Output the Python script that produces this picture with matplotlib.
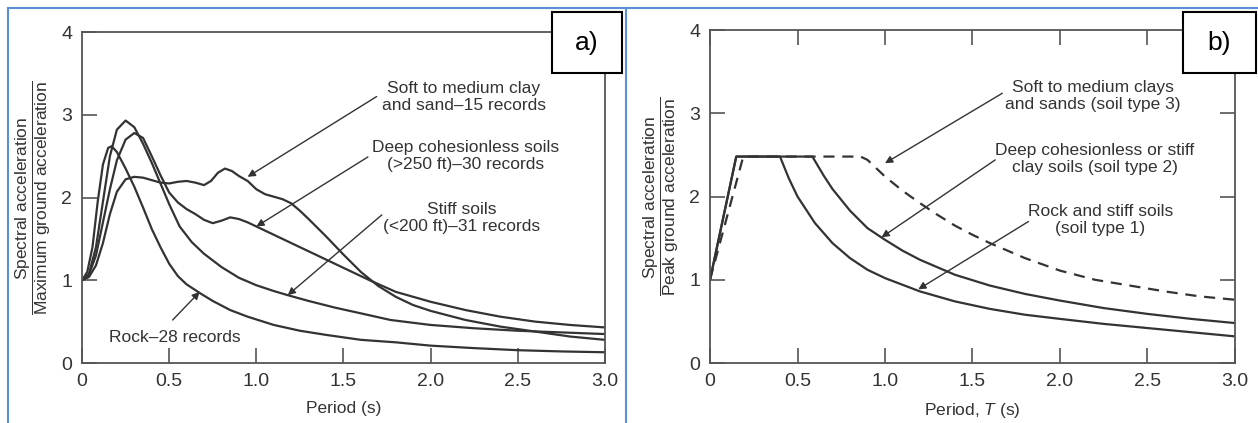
import matplotlib.pyplot as plt
from matplotlib.lines import Line2D
from matplotlib.patches import Rectangle

plt.rcParams['font.family'] = ['Liberation Sans', 'DejaVu Sans']
plt.rcParams['mathtext.fontset'] = 'custom'
plt.rcParams['mathtext.rm'] = 'Liberation Sans'
plt.rcParams['mathtext.it'] = 'Liberation Sans:italic'

# ---- panel a: average spectral shapes (Seed et al.) ----
rock_T = [0, 0.03, 0.06, 0.09, 0.12, 0.15, 0.17, 0.2, 0.25, 0.3, 0.35, 0.4, 0.45, 0.5, 0.55,
          0.6, 0.68, 0.75, 0.85, 0.95, 1.1, 1.25, 1.4, 1.6, 1.8, 2.0, 2.25, 2.5, 2.75, 3.0]
rock_S = [1.0, 1.1, 1.4, 1.95, 2.4, 2.6, 2.62, 2.55, 2.35, 2.13, 1.88, 1.62, 1.4, 1.2, 1.05,
          0.95, 0.84, 0.75, 0.64, 0.56, 0.46, 0.39, 0.34, 0.28, 0.25, 0.21, 0.18, 0.155, 0.14, 0.13]

stiff_T = [0, 0.04, 0.08, 0.12, 0.16, 0.2, 0.25, 0.3, 0.35, 0.4, 0.45, 0.5, 0.56, 0.63, 0.7,
           0.8, 0.9, 1.0, 1.1, 1.18, 1.3, 1.45, 1.6, 1.77, 2.0, 2.25, 2.5, 2.75, 3.0]
stiff_S = [1.0, 1.08, 1.4, 1.95, 2.5, 2.82, 2.93, 2.85, 2.65, 2.42, 2.17, 1.92, 1.65, 1.46, 1.32,
           1.16, 1.03, 0.94, 0.87, 0.82, 0.75, 0.67, 0.6, 0.52, 0.46, 0.42, 0.39, 0.37, 0.35]

deep_T = [0, 0.04, 0.08, 0.12, 0.16, 0.2, 0.25, 0.3, 0.35, 0.4, 0.45, 0.5, 0.55, 0.6, 0.65,
          0.7, 0.75, 0.8, 0.85, 0.9, 0.95, 1.0, 1.1, 1.2, 1.35, 1.5, 1.65, 1.8, 2.0, 2.2,
          2.4, 2.6, 2.8, 3.0]
deep_S = [1.0, 1.07, 1.3, 1.7, 2.1, 2.45, 2.7, 2.78, 2.72, 2.5, 2.27, 2.06, 1.94, 1.86, 1.8,
          1.73, 1.69, 1.72, 1.76, 1.74, 1.7, 1.65, 1.55, 1.45, 1.3, 1.15, 1.0, 0.86, 0.74, 0.64,
          0.56, 0.5, 0.46, 0.43]

soft_T = [0, 0.04, 0.08, 0.12, 0.16, 0.2, 0.25, 0.3, 0.35, 0.4, 0.45, 0.5, 0.55, 0.6, 0.65,
          0.7, 0.74, 0.78, 0.82, 0.86, 0.9, 0.95, 1.0, 1.05, 1.1, 1.15, 1.2, 1.25, 1.3, 1.4,
          1.5, 1.6, 1.7, 1.8, 1.9, 2.0, 2.2, 2.4, 2.6, 2.8, 3.0]
soft_S = [1.0, 1.04, 1.18, 1.45, 1.8, 2.07, 2.22, 2.25, 2.24, 2.21, 2.18, 2.17, 2.19, 2.2, 2.18,
          2.15, 2.2, 2.3, 2.35, 2.32, 2.26, 2.2, 2.1, 2.04, 2.01, 1.98, 1.93, 1.84, 1.74, 1.53,
          1.31, 1.1, 0.93, 0.8, 0.7, 0.63, 0.52, 0.44, 0.38, 0.32, 0.28]

# ---- panel b: code spectra ----
type1_T = [0, 0.15, 0.4, 0.45, 0.5, 0.6, 0.7, 0.8, 0.9, 1.0, 1.2, 1.4, 1.6, 1.8, 2.0, 2.25,
           2.5, 2.75, 3.0]
type1_S = [1.0, 2.48, 2.48, 2.22, 2.0, 1.68, 1.44, 1.26, 1.12, 1.02, 0.86, 0.74, 0.65, 0.58,
           0.53, 0.47, 0.42, 0.37, 0.32]

type2_T = [0, 0.15, 0.585, 0.65, 0.7, 0.8, 0.9, 1.0, 1.1, 1.2, 1.4, 1.6, 1.8, 2.0, 2.25, 2.5,
           2.75, 3.0]
type2_S = [1.0, 2.48, 2.48, 2.25, 2.09, 1.83, 1.62, 1.48, 1.35, 1.24, 1.06, 0.93, 0.83, 0.75,
           0.66, 0.59, 0.53, 0.48]

type3_T = [0, 0.19, 0.86, 0.9, 0.95, 1.0, 1.1, 1.2, 1.3, 1.4, 1.5, 1.6, 1.8, 2.0, 2.2, 2.4,
           2.6, 2.8, 3.0]
type3_S = [1.0, 2.48, 2.48, 2.44, 2.34, 2.24, 2.07, 1.92, 1.78, 1.65, 1.54, 1.44, 1.26, 1.11,
           1.0, 0.93, 0.86, 0.8, 0.76]

xticks = [0, 0.5, 1.0, 1.5, 2.0, 2.5, 3.0]
xtick_labels = ['0', '0.5', '1.0', '1.5', '2.0', '2.5', '3.0']
yticks = [0, 1, 2, 3, 4]

ink = '#333333'
fs = 12.5

fig = plt.figure(figsize=(12.58, 4.23), dpi=100)
axa = fig.add_axes([0.0652, 0.1418, 0.4157, 0.7825])
axb = fig.add_axes([0.5644, 0.1418, 0.4173, 0.7872])


def style_axes(ax, all_sides):
    ax.set_xlim(0, 3.0)
    ax.set_ylim(0, 4)
    ax.set_xticks(xticks)
    ax.set_xticklabels(xtick_labels)
    ax.set_yticks(yticks)
    ax.tick_params(direction='in', length=11, width=1.2, color='#555555',
                   labelsize=14, labelcolor=ink, pad=7,
                   top=all_sides, right=all_sides)
    for s in ax.spines.values():
        s.set_color('#555555')
        s.set_linewidth(1.3)


def arrow(ax, start, tip):
    ax.annotate('', xy=tip, xytext=start,
                arrowprops=dict(arrowstyle='-|>', lw=1.0, color=ink,
                                mutation_scale=11, shrinkA=0, shrinkB=0))


lw = 1.6
axa.plot(rock_T, rock_S, color=ink, lw=lw)
axa.plot(stiff_T, stiff_S, color=ink, lw=lw)
axa.plot(deep_T, deep_S, color=ink, lw=lw)
axa.plot(soft_T, soft_S, color=ink, lw=lw)
style_axes(axa, False)
axa.set_xlabel('Period (s)', fontsize=fs, color=ink, labelpad=8)
axa.set_ylabel(r'$\dfrac{\mathrm{Spectral\ acceleration}}{\mathrm{Maximum\ ground\ acceleration}}$',
               fontsize=fs, color=ink, labelpad=6)

axa.text(2.19, 3.21, 'Soft to medium clay\nand sand–15 records', ha='center', va='center',
         fontsize=fs, color=ink, linespacing=1.15)
arrow(axa, (1.69, 3.22), (0.95, 2.25))
axa.text(2.2, 2.5, 'Deep cohesionless soils\n(>250 ft)–30 records', ha='center', va='center',
         fontsize=fs, color=ink, linespacing=1.15)
arrow(axa, (1.64, 2.49), (1.0, 1.65))
axa.text(2.18, 1.75, 'Stiff soils\n(<200 ft)–31 records', ha='center', va='center',
         fontsize=fs, color=ink, linespacing=1.15)
arrow(axa, (1.72, 1.79), (1.18, 0.82))
axa.text(0.53, 0.31, 'Rock–28 records', ha='center', va='center', fontsize=fs, color=ink)
arrow(axa, (0.52, 0.52), (0.675, 0.86))

axb.plot(type1_T, type1_S, color=ink, lw=lw)
axb.plot(type2_T, type2_S, color=ink, lw=lw)
axb.plot(type3_T, type3_S, color=ink, lw=lw, ls=(0, (5, 3.5)))
style_axes(axb, True)
axb.set_xlabel(r'Period, $T$ (s)', fontsize=fs, color=ink, labelpad=8)
axb.set_ylabel(r'$\dfrac{\mathrm{Spectral\ acceleration}}{\mathrm{Peak\ ground\ acceleration}}$',
               fontsize=fs, color=ink, labelpad=6)

axb.text(2.19, 3.21, 'Soft to medium clays\nand sands (soil type 3)', ha='center', va='center',
         fontsize=fs, color=ink, linespacing=1.15)
arrow(axb, (1.67, 3.24), (1.0, 2.4))
axb.text(2.2, 2.45, 'Deep cohesionless or stiff\nclay soils (soil type 2)', ha='center',
         va='center', fontsize=fs, color=ink, linespacing=1.15)
arrow(axb, (1.63, 2.44), (0.98, 1.51))
axb.text(2.23, 1.72, 'Rock and stiff soils\n(soil type 1)', ha='center', va='center',
         fontsize=fs, color=ink, linespacing=1.15)
arrow(axb, (1.82, 1.70), (1.19, 0.885))

# blue table borders
W, H = 1258, 423
blue = '#5b8fd8'
for (x0, y0, x1, y1) in [(8, 8, 8, 423), (8, 8, 1258, 8), (626, 8, 626, 423)]:
    fig.add_artist(Line2D([x0 / W, x1 / W], [1 - y0 / H, 1 - y1 / H], color=blue, lw=1.5))

# panel tags
for (x0, x1, tag) in [(552, 622, 'a)'), (1183, 1256, 'b)')]:
    fig.add_artist(Rectangle((x0 / W, 1 - 73 / H), (x1 - x0) / W, 61 / H,
                             facecolor='white', edgecolor='black', lw=1.5,
                             transform=fig.transFigure, zorder=5))
    fig.text((x0 + x1) / 2 / W, 1 - 43 / H, tag, ha='center', va='center',
             fontsize=19, color='black', zorder=6)

fig.savefig('out.png', dpi=100)
